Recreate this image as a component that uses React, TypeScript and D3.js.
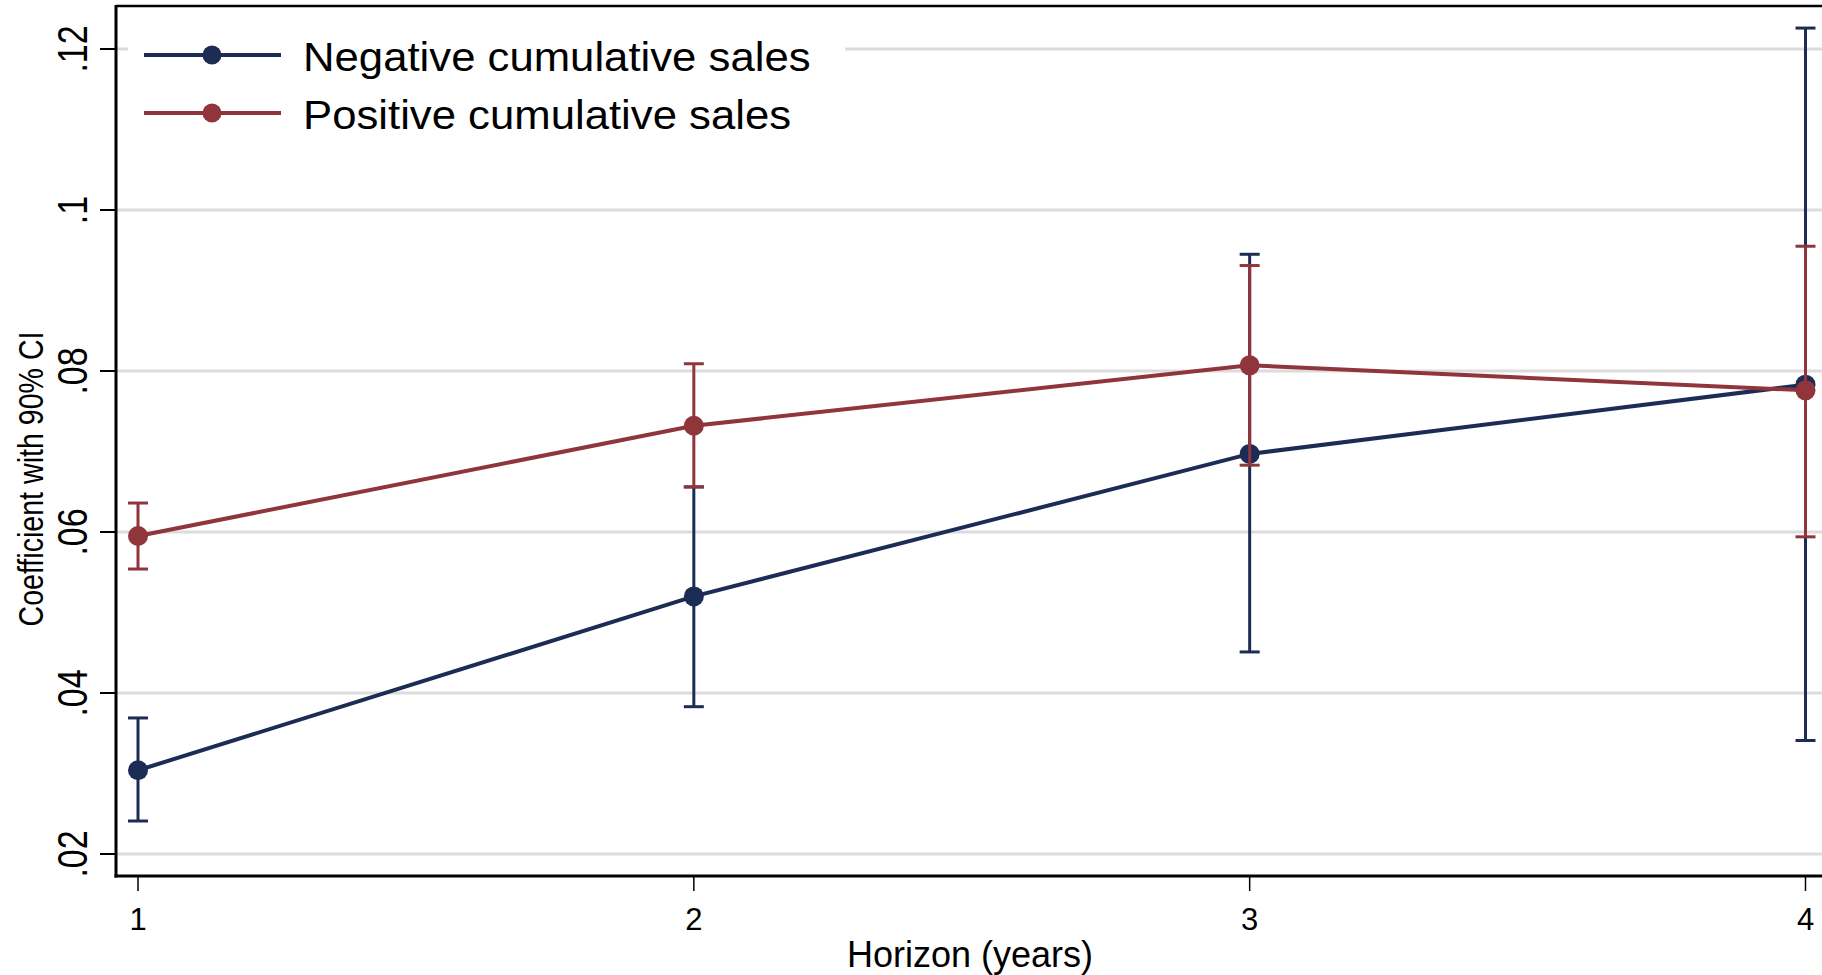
import React from "react";
import * as d3 from "d3";

const horizons = [1, 2, 3, 4];
const negCoef = [0.0304, 0.0520, 0.0697, 0.0783];
const negLo = [0.0241, 0.0383, 0.0451, 0.0341];
const negHi = [0.0369, 0.0656, 0.0945, 0.1226];
const posCoef = [0.0595, 0.0732, 0.0807, 0.0776];
const posLo = [0.0554, 0.0656, 0.0683, 0.0594];
const posHi = [0.0636, 0.0809, 0.0931, 0.0955];
const yTicks = [0.02, 0.04, 0.06, 0.08, 0.1, 0.12];
const yTickLabels = [".02", ".04", ".06", ".08", ".1", ".12"];
const xTickLabels = ["1", "2", "3", "4"];
const seriesNames = ["Negative cumulative sales", "Positive cumulative sales"];

const NAVY = "#1c2c55";
const RED = "#8f353b";
const FONT = "'Liberation Sans', Arial, Helvetica, sans-serif";

export default function App() {
  const W = 1822, H = 975;
  const x = d3.scaleLinear().domain([1, 4]).range([138, 1805.5]);
  const y = d3.scaleLinear().domain([0.02, 0.12]).range([854, 49]);
  const left = 116, bottom = 876, top = 6;

  const line = d3.line<number>().x((_, i) => x(horizons[i])).y((d) => y(d));

  const series = [
    { name: seriesNames[0], coef: negCoef, lo: negLo, hi: negHi, color: NAVY },
    { name: seriesNames[1], coef: posCoef, lo: posLo, hi: posHi, color: RED },
  ];

  return (
    <svg width={W} height={H} style={{ position: "absolute", left: 0, top: 0, display: "block" }} fontFamily={FONT}>
      <rect x={0} y={0} width={W} height={H} fill="white" />
      {/* gridlines */}
      {yTicks.map((t) => (
        <line key={t} x1={left} x2={W} y1={y(t)} y2={y(t)} stroke="#dcdcdc" strokeWidth={3} />
      ))}
      {/* series */}
      {series.map((s) => (
        <g key={s.name}>
          {horizons.map((h, i) => (
            <g key={h} stroke={s.color} strokeWidth={3}>
              <line x1={x(h)} x2={x(h)} y1={y(s.lo[i])} y2={y(s.hi[i])} />
              <line x1={x(h) - 10} x2={x(h) + 10} y1={y(s.lo[i])} y2={y(s.lo[i])} />
              <line x1={x(h) - 10} x2={x(h) + 10} y1={y(s.hi[i])} y2={y(s.hi[i])} />
            </g>
          ))}
          <path d={line(s.coef) || ""} fill="none" stroke={s.color} strokeWidth={4} />
          {horizons.map((h, i) => (
            <circle key={h} cx={x(h)} cy={y(s.coef[i])} r={10} fill={s.color} />
          ))}
        </g>
      ))}
      {/* legend */}
      <rect x={128} y={18} width={717} height={122} fill="white" />
      {series.map((s, i) => {
        const ly = 55 + i * 58;
        return (
          <g key={s.name}>
            <line x1={144} x2={281} y1={ly} y2={ly} stroke={s.color} strokeWidth={4} />
            <circle cx={212} cy={ly} r={9.5} fill={s.color} />
            <text
              transform={`translate(303,${ly + 15.5}) scale(1.066,1)`}
              fontSize={41}
              fill="black"
            >
              {s.name}
            </text>
          </g>
        );
      })}
      {/* axes */}
      <line x1={left} x2={W} y1={top} y2={top} stroke="black" strokeWidth={2.5} />
      <line x1={left} x2={left} y1={top - 1} y2={bottom + 1.5} stroke="black" strokeWidth={3} />
      <line x1={left - 1.5} x2={W} y1={bottom} y2={bottom} stroke="black" strokeWidth={3} />
      {yTicks.map((t, i) => (
        <g key={t}>
          <line x1={100} x2={left} y1={y(t)} y2={y(t)} stroke="black" strokeWidth={2} />
          <text
            transform={`translate(87,${y(t)}) rotate(-90) scale(1,1.25)`}
            textAnchor="middle"
            fontSize={34}
            fill="black"
          >
            {yTickLabels[i]}
          </text>
        </g>
      ))}
      {horizons.map((h, i) => (
        <g key={h}>
          <line x1={x(h)} x2={x(h)} y1={bottom} y2={891} stroke="black" strokeWidth={1.5} />
          <text x={x(h)} y={930} textAnchor="middle" fontSize={31} fill="black">
            {xTickLabels[i]}
          </text>
        </g>
      ))}
      <text x={970} y={967} textAnchor="middle" fontSize={36} fill="black">Horizon (years)</text>
      <text
        transform={`translate(43,479) rotate(-90) scale(1,1.2)`}
        textAnchor="middle"
        fontSize={28.6}
        fill="black"
      >
        Coefficient with 90% CI
      </text>
    </svg>
  );
}
